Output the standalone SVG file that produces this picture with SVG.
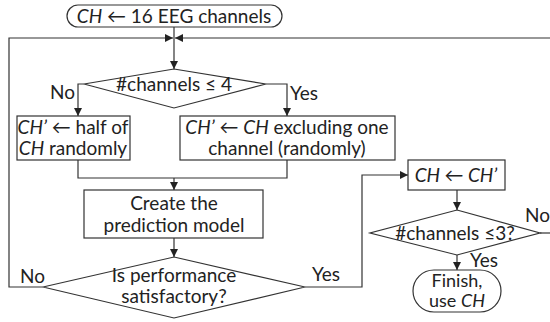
<svg xmlns="http://www.w3.org/2000/svg" width="550" height="322" viewBox="0 0 550 322">
<defs>
<marker id="ah" viewBox="0 0 10 10" refX="10" refY="5" markerWidth="8" markerHeight="8" markerUnits="userSpaceOnUse" orient="auto">
<path d="M0,0 L10,5 L0,10 z" fill="#222"/>
</marker>
</defs>
<style>
.s{fill:#fff;stroke:#333;stroke-width:1.2}
.c{fill:none;stroke:#333;stroke-width:1.2}
text{font-family:Lato,"Liberation Sans",sans-serif;font-size:19px;fill:#222}
.m{text-anchor:middle}
.i{font-style:italic}
.f{font-size:18px}
</style>
<rect width="550" height="322" fill="#fff"/>
<g id="connectors">
<path class="c" d="M174,27 V69" marker-end="url(#ah)"/>
<path class="c" d="M43,287 H9 V38 H173" marker-end="url(#ah)"/>
<path class="c" d="M550,38 H175" marker-end="url(#ah)"/>
<path class="c" d="M84,84 H78 V116" marker-end="url(#ah)"/>
<path class="c" d="M266,84 H287 V116" marker-end="url(#ah)"/>
<path class="c" d="M78,160 V178 H287 V160"/>
<path class="c" d="M174,178 V190" marker-end="url(#ah)"/>
<path class="c" d="M174,238 V257" marker-end="url(#ah)"/>
<path class="c" d="M305,287 H362 V175 H408" marker-end="url(#ah)"/>
<path class="c" d="M457,190 V210" marker-end="url(#ah)"/>
<path class="c" d="M540,233 H550"/>
<path class="c" d="M457,255 V270" marker-end="url(#ah)"/>
</g>
<g id="start">
<rect class="s" x="67" y="5" width="215" height="22" rx="11"/>
<text class="m" x="174" y="23"><tspan class="i">CH</tspan> ← 16 EEG channels</text>
</g>
<g id="dec1">
<polygon class="s" points="174,69 266,84 174,108 84,84"/>
<text class="m" x="174" y="91">#channels ≤ 4</text>
</g>
<g id="half">
<rect class="s" x="17" y="116" width="113" height="44"/>
<text class="m" x="73" y="134"><tspan class="i">CH’</tspan> ← half of</text>
<text class="m" x="73" y="155"><tspan class="i">CH</tspan> randomly</text>
</g>
<g id="excl">
<rect class="s" x="180" y="116" width="215" height="44"/>
<text class="m" x="287" y="134"><tspan class="i">CH’</tspan> ← <tspan class="i">CH</tspan> excluding one</text>
<text class="m" x="287" y="155">channel (randomly)</text>
</g>
<g id="create">
<rect class="s" x="84" y="190" width="179" height="48"/>
<text class="m" x="174" y="210">Create the</text>
<text class="m" x="174" y="232">prediction model</text>
</g>
<g id="dec2">
<polygon class="s" points="174,257 305,287 174,318 43,287"/>
<text class="m" x="174" y="282">Is performance</text>
<text class="m" x="174" y="303">satisfactory?</text>
</g>
<g id="assign">
<rect class="s" x="408" y="160" width="97" height="30"/>
<text class="m i" x="456" y="182">CH ← CH’</text>
</g>
<g id="dec3">
<polygon class="s" points="457,210 540,233 457,255 370,233"/>
<text class="m" x="455" y="240">#channels ≤3?</text>
</g>
<g id="finish">
<rect class="s" x="413" y="270" width="88" height="42" rx="21"/>
<text class="m f" x="457" y="287">Finish,</text>
<text class="m f" x="457" y="307">use <tspan class="i">CH</tspan></text>
</g>
<g id="labels">
<text x="50" y="99">No</text>
<text x="290" y="100">Yes</text>
<text x="20" y="283">No</text>
<text x="312" y="281">Yes</text>
<text x="525" y="222">No</text>
<text x="470" y="267">Yes</text>
</g>
</svg>
